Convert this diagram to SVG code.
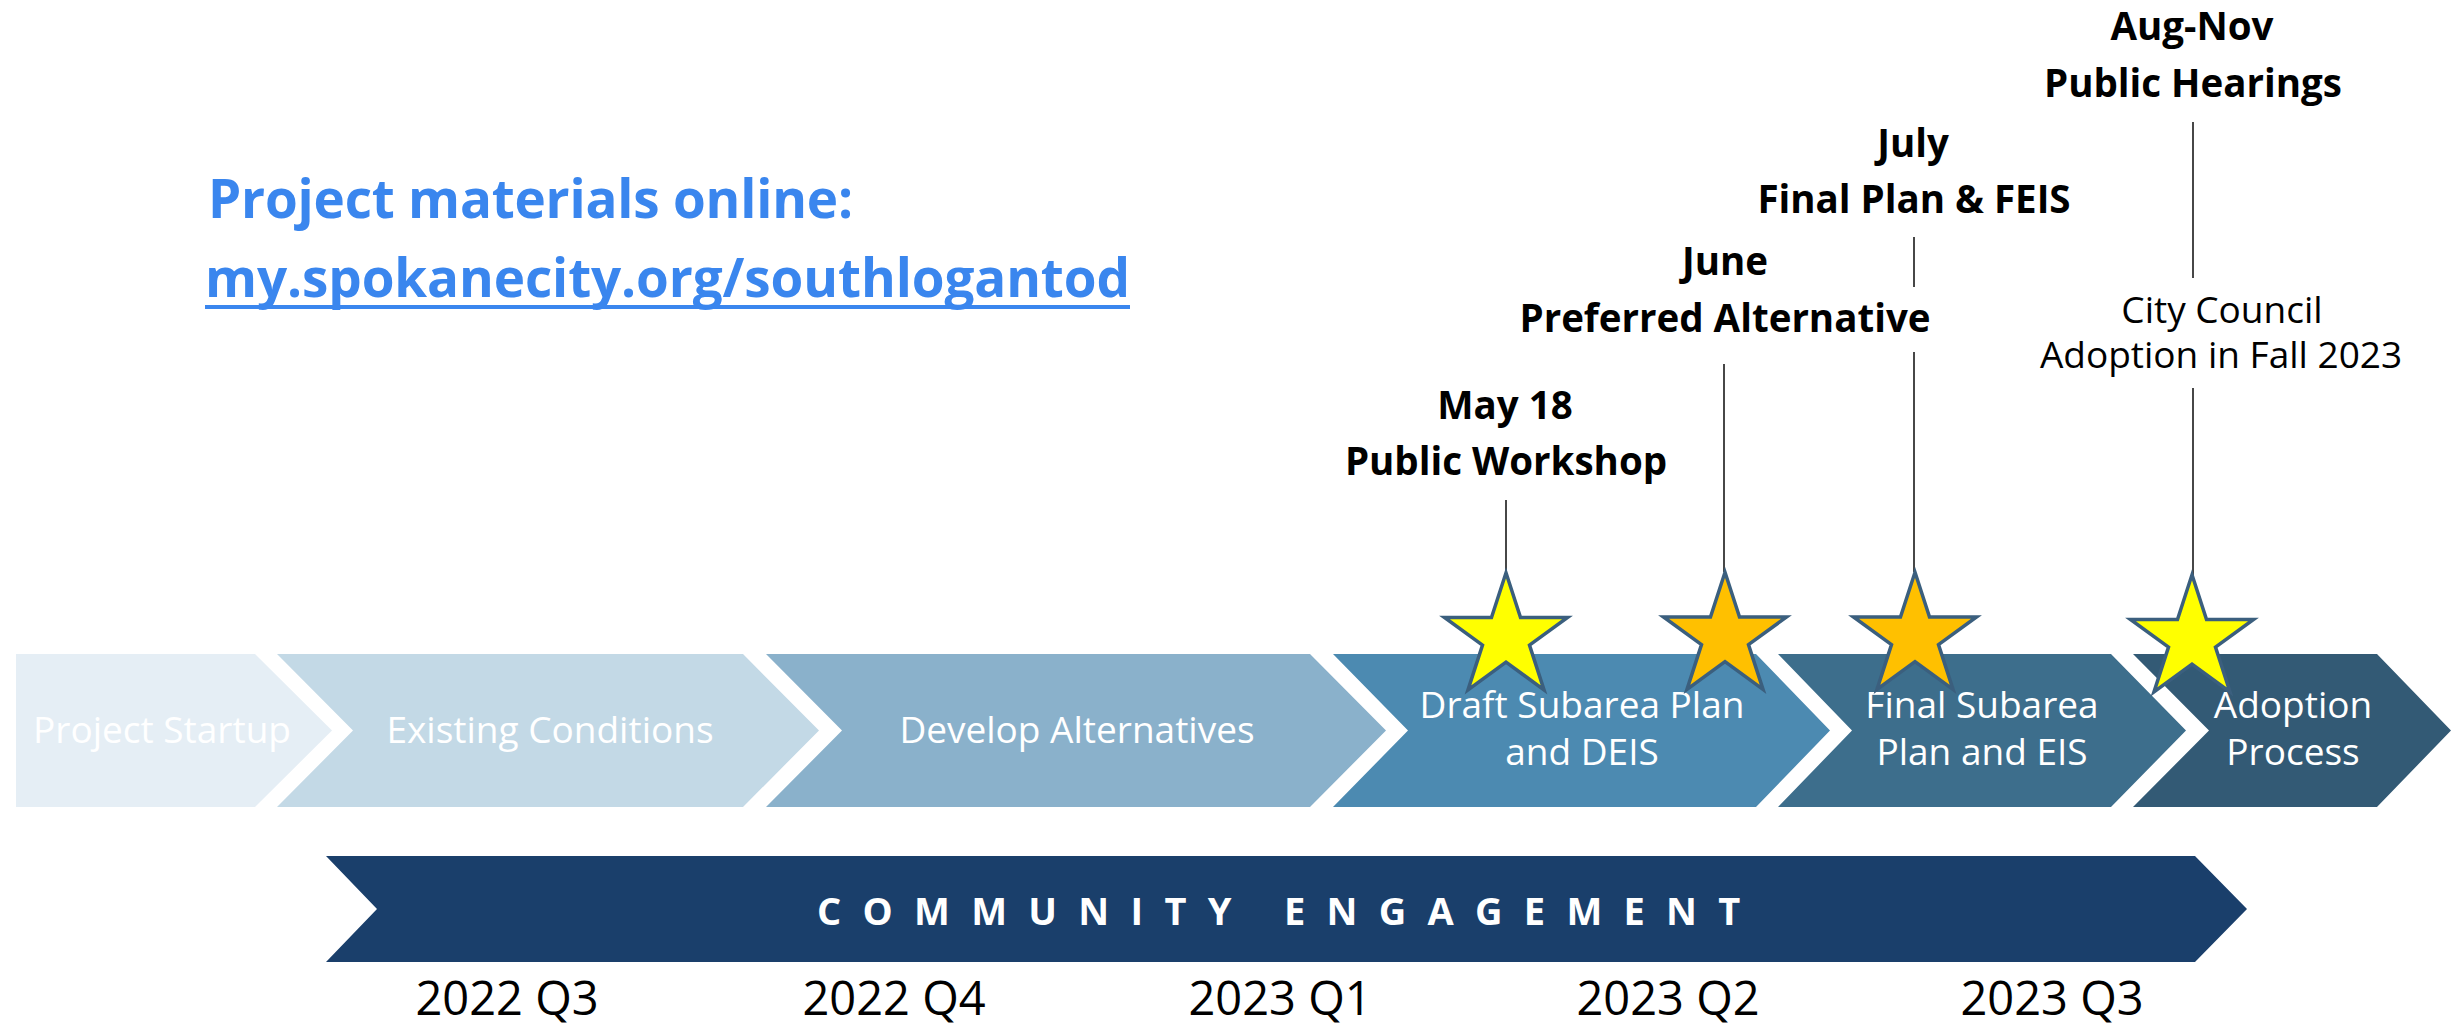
<svg xmlns="http://www.w3.org/2000/svg" xmlns:xlink="http://www.w3.org/1999/xlink" width="2458" height="1023" viewBox="0 0 2458 1023">
<style>
.phase{font-family:"Open Sans","DejaVu Sans",sans-serif;font-size:37px;fill:#ffffff;text-anchor:middle}
.ms{font-family:"Open Sans","DejaVu Sans",sans-serif;font-size:38.5px;font-weight:700;fill:#000000;text-anchor:middle}
.note{font-family:"Open Sans","DejaVu Sans",sans-serif;font-size:37px;fill:#000000;text-anchor:middle}
.qtr{font-family:"Open Sans","DejaVu Sans",sans-serif;font-size:47px;fill:#000000;text-anchor:middle}
.link{font-family:"Open Sans","DejaVu Sans",sans-serif;font-size:53px;font-weight:700;fill:#3A86EE}
.ce{font-family:"Open Sans","DejaVu Sans",sans-serif;font-size:38px;font-weight:700;fill:#ffffff;letter-spacing:21.3px}
.lead{stroke:#333333;stroke-width:1.8;fill:none}
.star{stroke:#3B5F7E;stroke-width:3.5;stroke-linejoin:miter}
</style>
<defs>
<path id="star" d="M0,-64.7 L14.52,-19.98 L61.53,-19.99 L23.49,7.63 L38.03,52.34 L0,24.7 L-38.03,52.34 L-23.49,7.63 L-61.53,-19.99 L-14.52,-19.98 Z"/>
</defs>
<rect width="2458" height="1023" fill="#ffffff"/>

<g id="header">
<text class="link" x="208" y="218" textLength="645">Project materials online:</text>
<text class="link" x="205" y="297" textLength="925">my.spokanecity.org/southlogantod</text>
<rect x="205" y="305" width="925" height="4" fill="#3A86EE"/>
</g>

<g id="phase-project-startup">
<polygon points="16,654 255,654 332,730.5 255,807 16,807" fill="#E5EEF5"/>
<text class="phase" x="162" y="743">Project Startup</text>
</g>
<g id="phase-existing-conditions">
<polygon points="277,654 743,654 819,730.5 743,807 277,807 353,730.5" fill="#C3D9E6"/>
<text class="phase" x="550" y="743">Existing Conditions</text>
</g>
<g id="phase-develop-alternatives">
<polygon points="766,654 1310,654 1386,730.5 1310,807 766,807 842,730.5" fill="#8AB1CB"/>
<text class="phase" x="1077" y="743">Develop Alternatives</text>
</g>
<g id="phase-draft">
<polygon points="1333,654 1756,654 1830,730.5 1756,807 1333,807 1408,730.5" fill="#4C8AB1"/>
<text class="phase" x="1582" y="718">Draft Subarea Plan</text>
<text class="phase" x="1582" y="765">and DEIS</text>
</g>
<g id="phase-final">
<polygon points="1778,654 2111,654 2186,730.5 2111,807 1778,807 1852,730.5" fill="#3D6E8C"/>
<text class="phase" x="1982" y="718">Final Subarea</text>
<text class="phase" x="1982" y="765">Plan and EIS</text>
</g>
<g id="phase-adoption">
<polygon points="2133,654 2377,654 2451,730.5 2377,807 2133,807 2209,730.5" fill="#335A75"/>
<text class="phase" x="2293" y="718">Adoption</text>
<text class="phase" x="2293" y="765">Process</text>
</g>

<g id="community-engagement">
<polygon points="326,856 2195,856 2247,909 2195,962 326,962 377,909" fill="#1A3F6B"/>
<text class="ce" x="817" y="925">COMMUNITY ENGAGEMENT</text>
</g>

<g id="quarters">
<text class="qtr" x="507" y="1015">2022 Q3</text>
<text class="qtr" x="894" y="1015">2022 Q4</text>
<text class="qtr" x="1280" y="1015">2023 Q1</text>
<text class="qtr" x="1668" y="1015">2023 Q2</text>
<text class="qtr" x="2052" y="1015">2023 Q3</text>
</g>

<g id="connectors">
<line class="lead" x1="1506" y1="500" x2="1506" y2="573"/>
<line class="lead" x1="1724" y1="364" x2="1724" y2="572"/>
<line class="lead" x1="1914" y1="237" x2="1914" y2="287"/>
<line class="lead" x1="1914" y1="352" x2="1914" y2="572"/>
<line class="lead" x1="2193" y1="122" x2="2193" y2="278"/>
<line class="lead" x1="2193" y1="388" x2="2193" y2="575"/>
</g>

<g id="milestone-may">
<text class="ms" x="1505" y="419">May 18</text>
<text class="ms" x="1506" y="475">Public Workshop</text>
<use xlink:href="#star" href="#star" class="star" transform="translate(1506,637.5)" fill="#FFFF00"/>
</g>
<g id="milestone-june">
<text class="ms" x="1725" y="275">June</text>
<text class="ms" x="1725" y="332">Preferred Alternative</text>
<use xlink:href="#star" href="#star" class="star" transform="translate(1725,637)" fill="#FFC000"/>
</g>
<g id="milestone-july">
<text class="ms" x="1913" y="157">July</text>
<text class="ms" x="1914" y="213">Final Plan &amp; FEIS</text>
<use xlink:href="#star" href="#star" class="star" transform="translate(1915,637)" fill="#FFC000"/>
</g>
<g id="milestone-aug">
<text class="ms" x="2192" y="40">Aug-Nov</text>
<text class="ms" x="2193" y="97">Public Hearings</text>
<text class="note" x="2222" y="323">City Council</text>
<text class="note" x="2221" y="368">Adoption in Fall 2023</text>
<use xlink:href="#star" href="#star" class="star" transform="translate(2192,639.5)" fill="#FFFF00"/>
</g>
</svg>
